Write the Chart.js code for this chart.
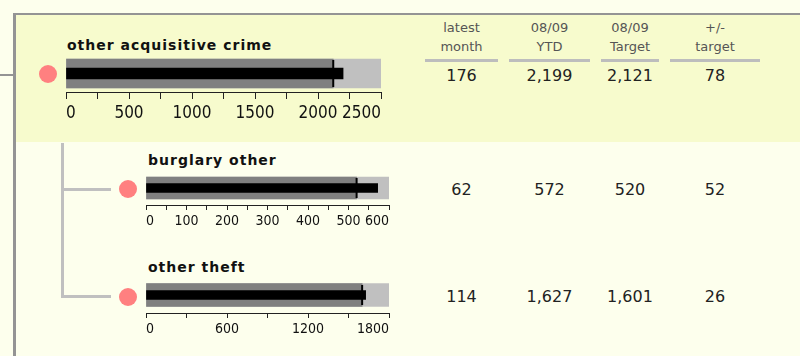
<!DOCTYPE html>
<html>
<head>
<meta charset="utf-8">
<title>Acquisitive crime - bullet charts</title>
<script src="https://cdn.jsdelivr.net/npm/chart.js@4.4.1/dist/chart.umd.min.js"></script>
<style>
  html, body { margin: 0; padding: 0; }
  body {
    position: relative; width: 800px; height: 356px; overflow: hidden;
    background: #fdffed; font-family: 'DejaVu Sans', Verdana, sans-serif;
  }
  .abs { position: absolute; }
  .frame { left: 13px; top: 13px; width: 800px; height: 400px;
           border-left: 3px solid #949494; border-top: 2px solid #949494; }
  .panel-top { left: 16px; top: 15px; width: 784px; height: 127px; background: #f7fbcd; }
  .stub { left: 0; top: 74px; width: 13px; height: 2px; background: #949494; }
  .tree { background: #c0c0c0; }
  .dot { width: 18px; height: 18px; border-radius: 50%; background: #ff8080; }
  .name { font-size: 14px; line-height: 16px; font-weight: bold; color: #111;
          letter-spacing: 1px; white-space: nowrap; }
  .head { font-size: 13px; line-height: 19px; color: #555; text-align: center; white-space: pre; }
  .rule { height: 3px; background: #bdbdbd; }
  .val { font-size: 16px; line-height: 20px; color: #222; text-align: center; }
  canvas { position: absolute; }
</style>
</head>
<body>
<div class="abs frame"></div>
<div class="abs panel-top"></div>
<div class="abs stub"></div>
<div class="abs tree" style="left:61px; top:143px; width:3px; height:155px;"></div>
<div class="abs tree" style="left:61px; top:188px; width:50px; height:3px;"></div>
<div class="abs tree" style="left:61px; top:295px; width:50px; height:3px;"></div>
<div id="rows"></div>

<script>
(function() {
  'use strict';

  // ── Data ──
  var names       = ['other acquisitive crime', 'burglary other', 'other theft'];
  var latestMonth = [176, 62, 114];
  var ytd         = [2199, 572, 1627];
  var target      = [2121, 520, 1601];
  var diff        = [78, 52, 26];

  // ── Axis ticks for each bullet ──
  var axisMax   = [2500, 600, 1800];
  var tickStep  = [250, 50, 300];
  var labelStep = [500, 100, 600];

  // ── Table headers ──
  var headers = [['latest', 'month'], ['08/09', 'YTD'], ['08/09', 'Target'], ['+/-', 'target']];

  // ── Layout (pixels) ──
  var cols = [ { x: 425, w: 73 }, { x: 509, w: 81 }, { x: 601, w: 58 }, { x: 670, w: 90 } ];
  var geom = [
    { x: 66,  w: 315, top: 55,  ch: 37, band: 29, bar: 11, mark: 13.5, tick: 7, font: 17, lh: 1.47,
      nameX: 67,  nameY: 36.5, dotX: 39,  dotY: 65,  valY: 65.5 },
    { x: 146, w: 243, top: 171, ch: 34, band: 22, bar: 9,  mark: 10,   tick: 5, font: 14, lh: 1.4,
      nameX: 148, nameY: 152, dotX: 119, dotY: 180, valY: 179.5 },
    { x: 146, w: 243, top: 277, ch: 36, band: 23, bar: 9,  mark: 10,   tick: 5, font: 14, lh: 1.3,
      nameX: 148, nameY: 258.8, dotX: 119, dotY: 288, valY: 287 }
  ];
  var PAD = 2;      // tick label padding, Chart.js also insets the chart area by this
  var AXIS_H = 34;  // fixed height of the x axis box

  var rows = document.getElementById('rows');

  function el(cls, style, text) {
    var d = document.createElement('div');
    d.className = 'abs ' + cls;
    d.setAttribute('style', style);
    if (text !== undefined) d.textContent = text;
    rows.appendChild(d);
    return d;
  }

  function fmt(n) { return n.toLocaleString('en-US'); }

  // ── Column headers ──
  for (var c = 0; c < cols.length; c++) {
    el('head', 'left:' + cols[c].x + 'px; top:17.5px; width:' + cols[c].w + 'px;',
       headers[c][0] + '\n' + headers[c][1]);
    el('rule', 'left:' + cols[c].x + 'px; top:59px; width:' + cols[c].w + 'px;');
  }

  // ── One bullet chart ──
  function bullet(i) {
    var g = geom[i];
    var canvas = document.createElement('canvas');
    canvas.width = g.w + 2 * PAD;
    canvas.height = g.ch + AXIS_H;
    canvas.style.left = (g.x - PAD) + 'px';
    canvas.style.top = g.top + 'px';
    document.body.appendChild(canvas);

    new Chart(canvas, {
      type: 'bar',
      data: {
        labels: [names[i]],
        datasets: [
          {
            type: 'line',
            label: '08/09 Target',
            data: [target[i]],
            showLine: false,
            pointStyle: 'line',
            pointRotation: 90,
            pointRadius: g.mark,
            pointHoverRadius: g.mark,
            pointBorderWidth: 2,
            pointBorderColor: '#000',
            pointBackgroundColor: '#000',
            order: 0
          },
          { label: '08/09 YTD', data: [ytd[i]], backgroundColor: '#000', barThickness: g.bar, order: 1 },
          { label: 'to target', data: [target[i]], backgroundColor: '#808080', barThickness: g.band, order: 2 },
          { label: 'scale', data: [axisMax[i]], backgroundColor: '#c0c0c0', barThickness: g.band, order: 3 }
        ]
      },
      options: {
        indexAxis: 'y',
        responsive: false,
        animation: false,
        events: [],
        datasets: { bar: { grouped: false } },
        layout: { padding: 0, autoPadding: false },
        plugins: { legend: { display: false }, tooltip: { enabled: false } },
        scales: {
          y: { display: false },
          x: {
            type: 'linear',
            min: 0,
            max: axisMax[i],
            afterFit: function(s) { s.height = AXIS_H; },
            border: { display: true, color: '#222', width: 1 },
            grid: { drawOnChartArea: false, drawTicks: true, tickLength: g.tick, color: '#222', lineWidth: 1 },
            ticks: {
              stepSize: tickStep[i],
              autoSkip: false,
              maxRotation: 0,
              align: 'inner',
              padding: PAD,
              color: '#111',
              font: { family: "'DejaVu Sans Condensed', 'Liberation Sans Narrow', sans-serif", size: g.font, lineHeight: g.lh },
              callback: function(v) { return v % labelStep[i] === 0 ? String(v) : ''; }
            }
          }
        }
      }
    });

    // label, status dot and table values
    el('name', 'left:' + g.nameX + 'px; top:' + g.nameY + 'px;', names[i]);
    el('dot', 'left:' + g.dotX + 'px; top:' + g.dotY + 'px;');
    var vals = [latestMonth[i], ytd[i], target[i], diff[i]];
    for (var k = 0; k < vals.length; k++) {
      el('val', 'left:' + cols[k].x + 'px; top:' + g.valY + 'px; width:' + cols[k].w + 'px;', fmt(vals[k]));
    }
  }

  for (var i = 0; i < names.length; i++) bullet(i);

})();
</script>
</body>
</html>
